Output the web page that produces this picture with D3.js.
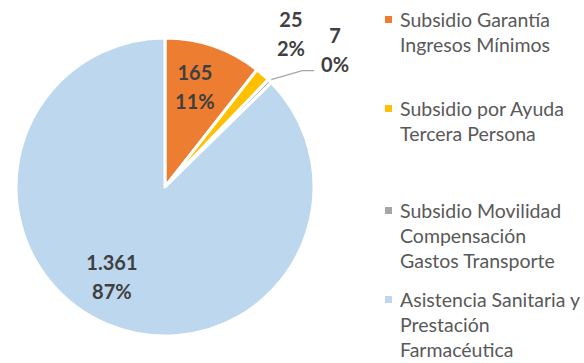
<!DOCTYPE html>
<html>
<head>
<meta charset="utf-8">
<script src="https://cdn.jsdelivr.net/npm/d3@7"></script>
<style>
  html, body { margin: 0; padding: 0; background: #fff; }
  svg { display: block; }
  text { font-family: Lato, "Open Sans", sans-serif; }
</style>
</head>
<body>
<svg id="chart" width="584" height="363"></svg>
<script>
// Program categories and their amounts
const categories = [
  "Subsidio Garantía Ingresos Mínimos",
  "Subsidio por Ayuda Tercera Persona",
  "Subsidio Movilidad Compensación Gastos Transporte",
  "Asistencia Sanitaria y Prestación Farmacéutica"
];
const values = [165, 25, 7, 1361];
const valueLabels = ["165", "25", "7", "1.361"];
const percentLabels = ["11%", "2%", "0%", "87%"];
const legendLines = [
  ["Subsidio Garantía", "Ingresos Mínimos"],
  ["Subsidio por Ayuda", "Tercera Persona"],
  ["Subsidio Movilidad", "Compensación", "Gastos Transporte"],
  ["Asistencia Sanitaria y", "Prestación", "Farmacéutica"]
];
const colors = ["#ED7D31", "#FFC000", "#A5A5A5", "#BDD7EE"];

const svg = d3.select("#chart");
const cx = 165, cy = 187, R = 149;

const color = d3.scaleOrdinal().domain(categories).range(colors);
const pie = d3.pie().sort(null).value(d => d.value);
const data = categories.map((c, i) => ({ cat: c, value: values[i], i }));
const arcs = pie(data);
const arc = d3.arc().innerRadius(0).outerRadius(R);

const g = svg.append("g").attr("transform", `translate(${cx},${cy})`);

g.selectAll("path.slice")
  .data(arcs)
  .join("path")
  .attr("class", "slice")
  .attr("d", arc)
  .attr("fill", d => color(d.data.cat))
  .attr("stroke", "#fff")
  .attr("stroke-width", 3)
  .attr("stroke-linejoin", "round");

// Label placement: radius factor and angle shift per slice
const labelPlace = [
  { r: 0.70, da: -0.042 },
  { r: 1.33, da: -0.027 },
  { r: 1.465, da: 0.113 },
  { r: 0.70, da: 0.137 }
];

const mid = d => (d.startAngle + d.endAngle) / 2;

arcs.forEach((d, i) => {
  const p = labelPlace[i];
  const a = mid(d) + p.da;
  const x = Math.sin(a) * R * p.r;
  const y = -Math.cos(a) * R * p.r;
  const t = g.append("text")
    .attr("text-anchor", "middle")
    .attr("font-weight", "bold")
    .attr("font-size", 20)
    .attr("fill", "#404040");
  t.append("tspan").attr("x", x).attr("y", y - 7).text(valueLabels[i]);
  t.append("tspan").attr("x", x).attr("y", y + 22).text(percentLabels[i]);
});

// Leader line for the smallest slice
{
  const d = arcs[2];
  const a = mid(d);
  const x0 = Math.sin(a) * (R + 2), y0 = -Math.cos(a) * (R + 2);
  g.append("polyline")
    .attr("points", `${x0},${y0} ${x0 + 31},${y0 - 9} ${x0 + 43},${y0 - 9}`)
    .attr("fill", "none")
    .attr("stroke", "#A6A6A6")
    .attr("stroke-width", 1.3);
}

// Legend
const legendY = [27, 116, 218, 307];
const lg = svg.append("g");
categories.forEach((c, i) => {
  const y0 = legendY[i];
  lg.append("rect")
    .attr("x", 385).attr("y", y0 - 11)
    .attr("width", 7).attr("height", 7)
    .attr("fill", color(c));
  const t = lg.append("text")
    .attr("font-size", 19.5)
    .attr("fill", "#595959");
  legendLines[i].forEach((line, k) => {
    t.append("tspan").attr("x", 400).attr("y", y0 + k * 25).text(line);
  });
});
</script>
</body>
</html>
